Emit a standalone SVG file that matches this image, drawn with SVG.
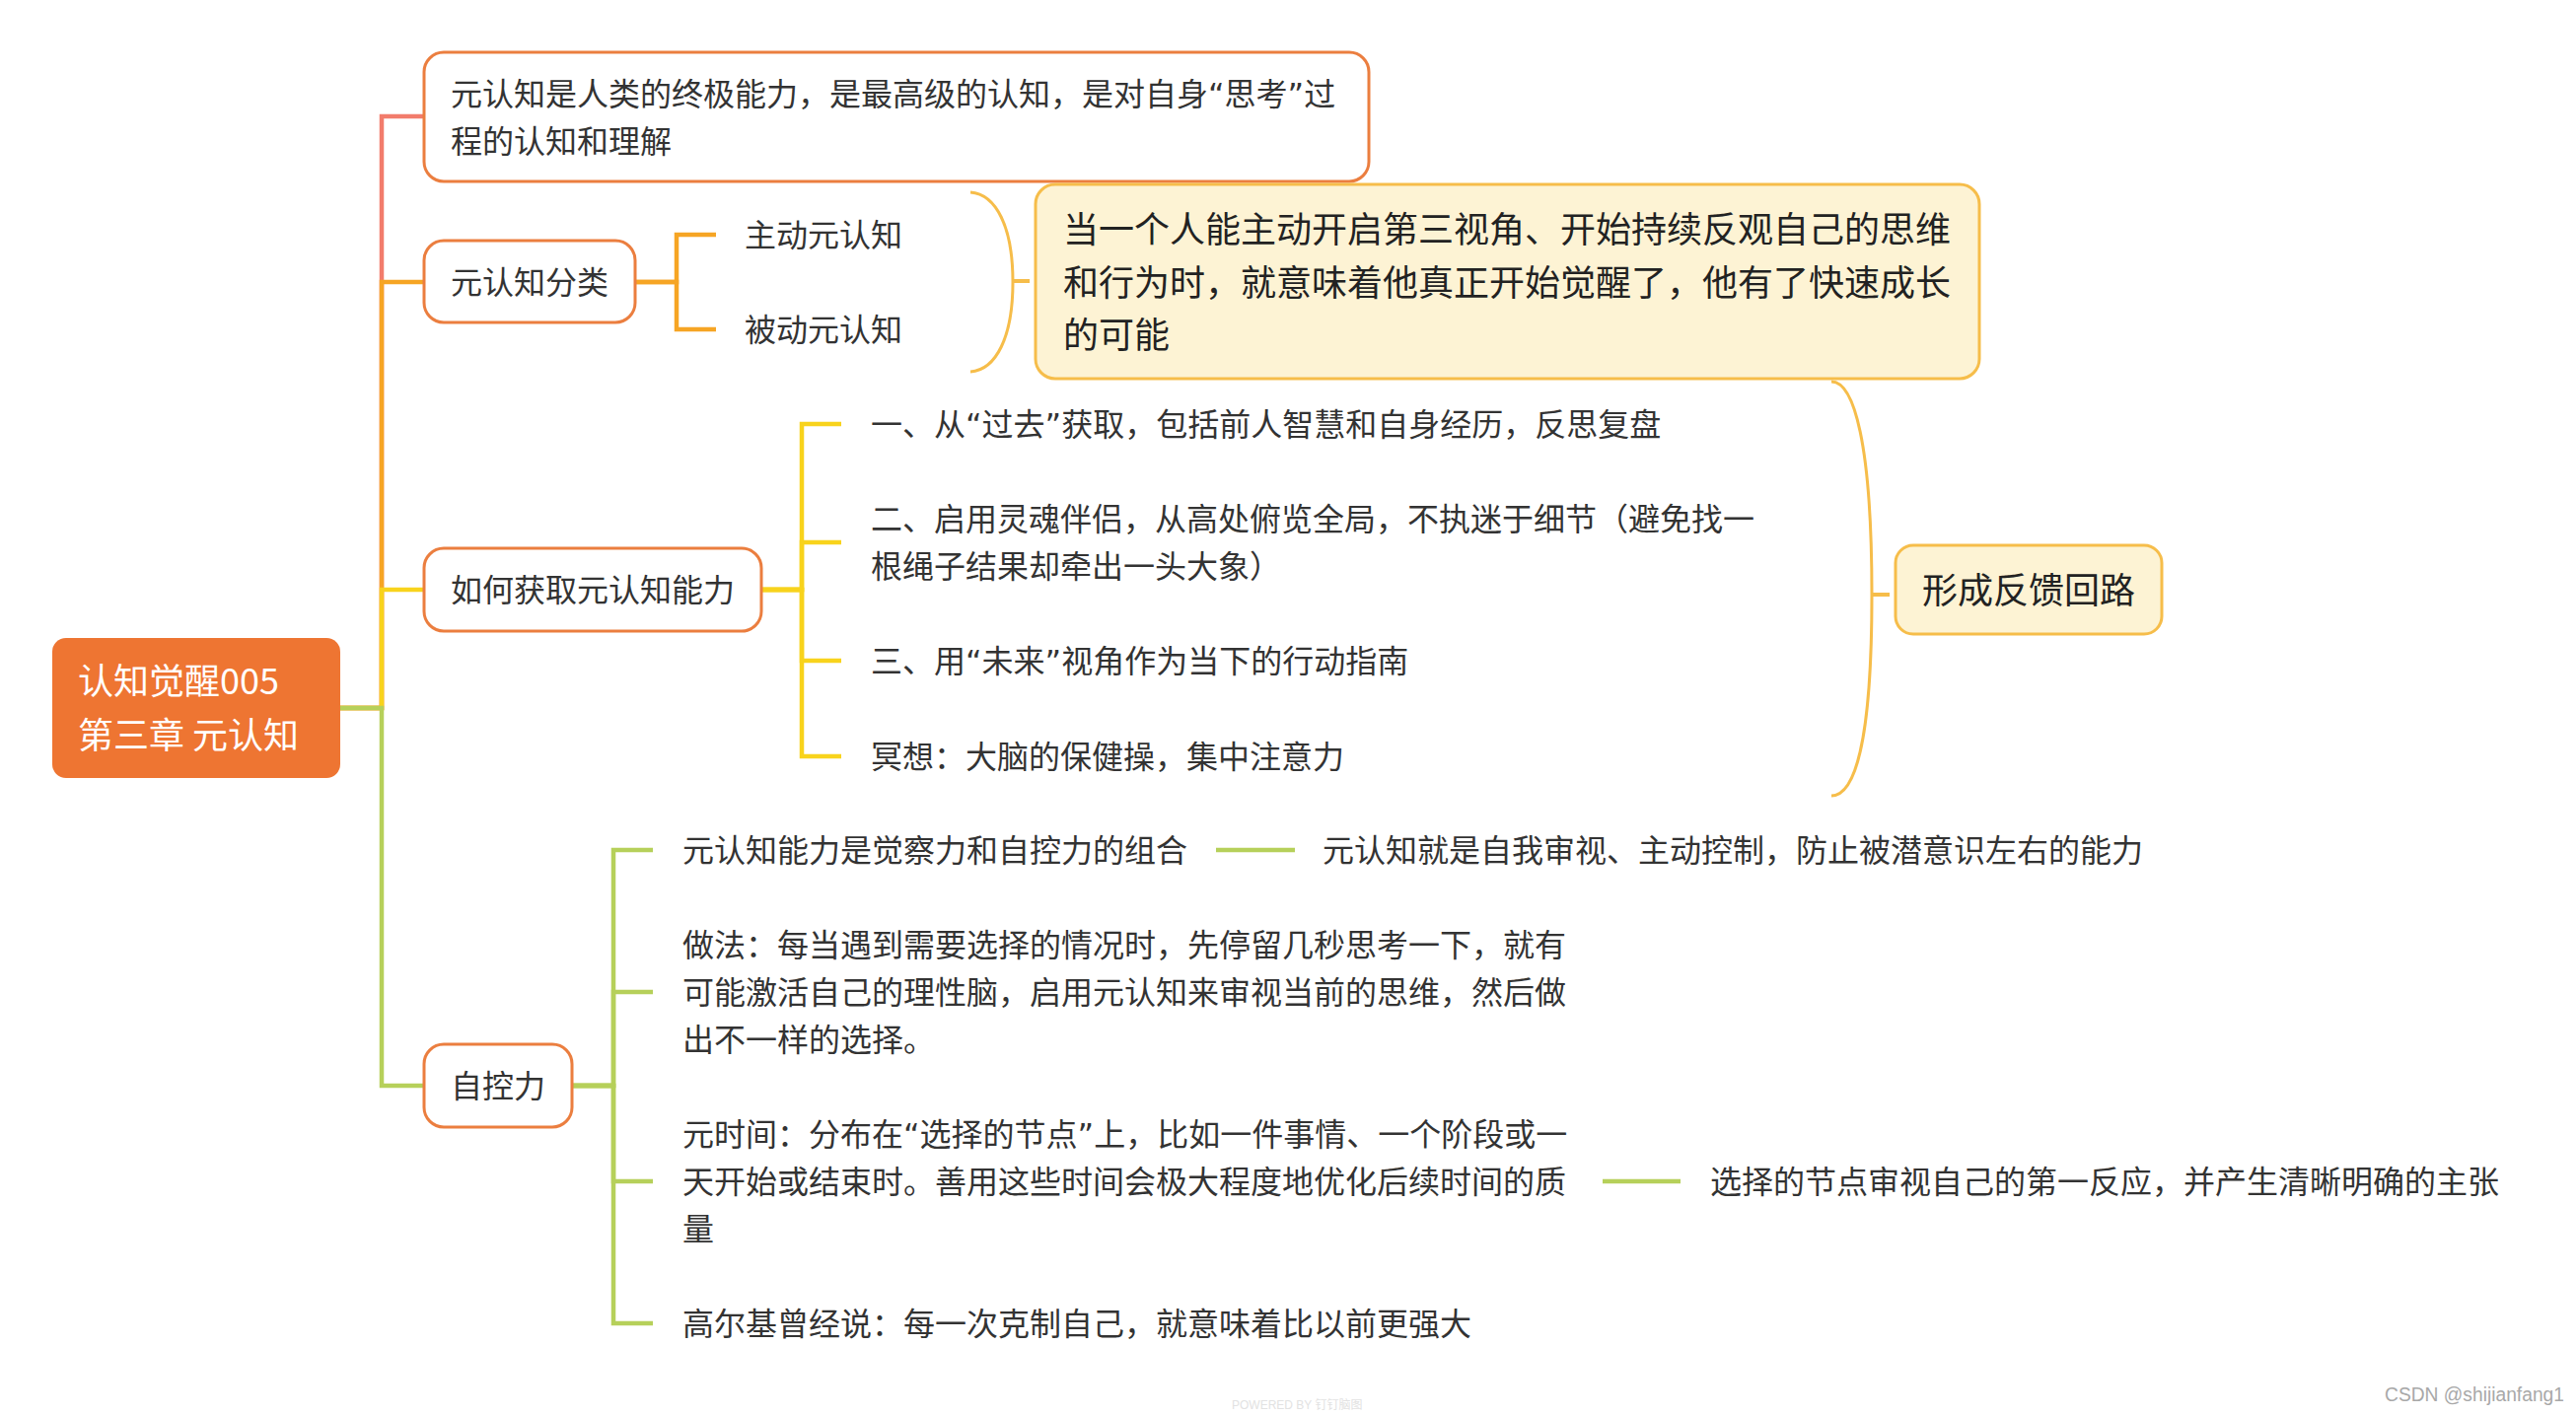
<svg xmlns="http://www.w3.org/2000/svg" width="2612" height="1436" viewBox="0 0 2612 1436">
<style>
  .t { font-family: "Noto Sans CJK SC", "Noto Sans", sans-serif; font-size: 32px; fill: #333333; }
  .tq { font-family: "DejaVu Sans", "Noto Sans CJK SC", sans-serif; font-size: 32px; fill: #333333; }
  .t36 { font-family: "Noto Sans CJK SC", "Noto Sans", sans-serif; font-size: 36px; fill: #222222; }
  .rootT { font-family: "Noto Sans CJK SC", "Noto Sans", sans-serif; font-size: 36px; fill: #ffffff; }
  .box { fill: #ffffff; stroke: #EB7E3F; stroke-width: 3; }
  .call { fill: #FDF3D4; stroke: #F6BD4A; stroke-width: 3; }
  .ln { fill: none; stroke-width: 4.5; stroke-linejoin: miter; }
  .red { stroke: #F27C6C; }
  .org { stroke: #F6A524; }
  .yel { stroke: #F8D31C; }
  .grn { stroke: #B6D05A; }
  .brk { fill: none; stroke: #F6BD4A; stroke-width: 3; }
  .tick { fill: none; stroke: #F6BD4A; stroke-width: 4; }
</style>
<rect x="0" y="0" width="2612" height="1436" fill="#ffffff"/>

<g id="connectors">
  <path class="ln red" d="M345,718 H387 V118 H430"/>
  <path class="ln org" d="M345,718 H387 V286 H430"/>
  <path class="ln yel" d="M345,718 H387 V598 H430"/>
  <path class="ln grn" d="M345,718 H387 V1101 H430"/>

  <path class="ln org" d="M644,286 H686 V238 H726"/>
  <path class="ln org" d="M644,286 H686 V334 H726"/>

  <path class="ln yel" d="M772,598 H813 V430 H853"/>
  <path class="ln yel" d="M772,598 H813 V550 H853"/>
  <path class="ln yel" d="M772,598 H813 V670 H853"/>
  <path class="ln yel" d="M772,598 H813 V767 H853"/>

  <path class="ln grn" d="M580,1101 H622 V862 H662"/>
  <path class="ln grn" d="M580,1101 H622 V1006 H662"/>
  <path class="ln grn" d="M580,1101 H622 V1198 H662"/>
  <path class="ln grn" d="M580,1101 H622 V1342 H662"/>

  <path class="ln grn" d="M1233,862 H1313"/>
  <path class="ln grn" d="M1625,1198 H1704"/>

  <path class="brk" d="M984,195 C1010,197 1027,230 1027,286 C1027,342 1010,375 984,377"/>
  <path class="tick" d="M1027,285 H1044"/>
  <path class="brk" d="M1857,387 C1880,387 1898,450 1898,603 C1898,756 1880,807 1857,807"/>
  <path class="tick" d="M1898,603 H1916"/>
</g>

<g id="root">
  <rect x="53" y="647" width="292" height="142" rx="14" fill="#EE7532"/>
  <text class="rootT" x="79" y="704">认知觉醒005</text>
  <text class="rootT" x="79" y="759">第三章 元认知</text>
</g>

<g id="node-definition">
  <rect class="box" x="430" y="53" width="958" height="131" rx="20"/>
  <text class="tq" x="457" y="106.5">元认知是人类的终极能力，是最高级的认知，是对自身“思考”过</text>
  <text class="t" x="457" y="154.5">程的认知和理解</text>
</g>

<g id="node-classify">
  <rect class="box" x="430" y="244" width="214" height="83" rx="20"/>
  <text class="t" x="457" y="297.5">元认知分类</text>
</g>
<g id="node-active">
  <text class="t" x="755" y="250">主动元认知</text>
</g>
<g id="node-passive">
  <text class="t" x="755" y="346">被动元认知</text>
</g>
<g id="node-awaken">
  <rect class="call" x="1050" y="187" width="957" height="197" rx="20"/>
  <text class="t36" x="1078" y="246">当一个人能主动开启第三视角、开始持续反观自己的思维</text>
  <text class="t36" x="1078" y="299.5">和行为时，就意味着他真正开始觉醒了，他有了快速成长</text>
  <text class="t36" x="1078" y="353">的可能</text>
</g>

<g id="node-how">
  <rect class="box" x="430" y="556" width="342" height="84" rx="20"/>
  <text class="t" x="457" y="610">如何获取元认知能力</text>
</g>
<g id="node-how-1">
  <text class="tq" x="883" y="442">一、从“过去”获取，包括前人智慧和自身经历，反思复盘</text>
</g>
<g id="node-how-2">
  <text class="t" x="883" y="538">二、启用灵魂伴侣，从高处俯览全局，不执迷于细节（避免找一</text>
  <text class="t" x="883" y="586">根绳子结果却牵出一头大象）</text>
</g>
<g id="node-how-3">
  <text class="tq" x="883" y="682">三、用“未来”视角作为当下的行动指南</text>
</g>
<g id="node-how-4">
  <text class="t" x="883" y="779">冥想：大脑的保健操，集中注意力</text>
</g>
<g id="node-loop">
  <rect class="call" x="1922" y="553" width="270" height="90" rx="18"/>
  <text class="t36" x="1949" y="612">形成反馈回路</text>
</g>

<g id="node-self">
  <rect class="box" x="430" y="1059" width="150" height="84" rx="20"/>
  <text class="t" x="457" y="1113">自控力</text>
</g>
<g id="node-self-1">
  <text class="t" x="692" y="874">元认知能力是觉察力和自控力的组合</text>
</g>
<g id="node-self-1a">
  <text class="t" x="1341" y="874">元认知就是自我审视、主动控制，防止被潜意识左右的能力</text>
</g>
<g id="node-self-2">
  <text class="t" x="692" y="970">做法：每当遇到需要选择的情况时，先停留几秒思考一下，就有</text>
  <text class="t" x="692" y="1018">可能激活自己的理性脑，启用元认知来审视当前的思维，然后做</text>
  <text class="t" x="692" y="1066">出不一样的选择。</text>
</g>
<g id="node-self-3">
  <text class="tq" x="692" y="1162">元时间：分布在“选择的节点”上，比如一件事情、一个阶段或一</text>
  <text class="t" x="692" y="1210">天开始或结束时。善用这些时间会极大程度地优化后续时间的质</text>
  <text class="t" x="692" y="1258">量</text>
</g>
<g id="node-self-3a">
  <text class="t" x="1734" y="1210">选择的节点审视自己的第一反应，并产生清晰明确的主张</text>
</g>
<g id="node-self-4">
  <text class="t" x="692" y="1354">高尔基曾经说：每一次克制自己，就意味着比以前更强大</text>
</g>

<g id="watermarks">
  <text x="1249" y="1429" font-family="'Liberation Sans', 'Noto Sans CJK SC', sans-serif" font-size="12" fill="#e2e2e2">POWERED BY 钉钉脑图</text>
  <text x="2418" y="1421" font-family="'Liberation Sans', 'Noto Sans CJK SC', sans-serif" font-size="20" fill="#a8a8a8" textLength="182" lengthAdjust="spacingAndGlyphs">CSDN @shijianfang1</text>
</g>
</svg>
